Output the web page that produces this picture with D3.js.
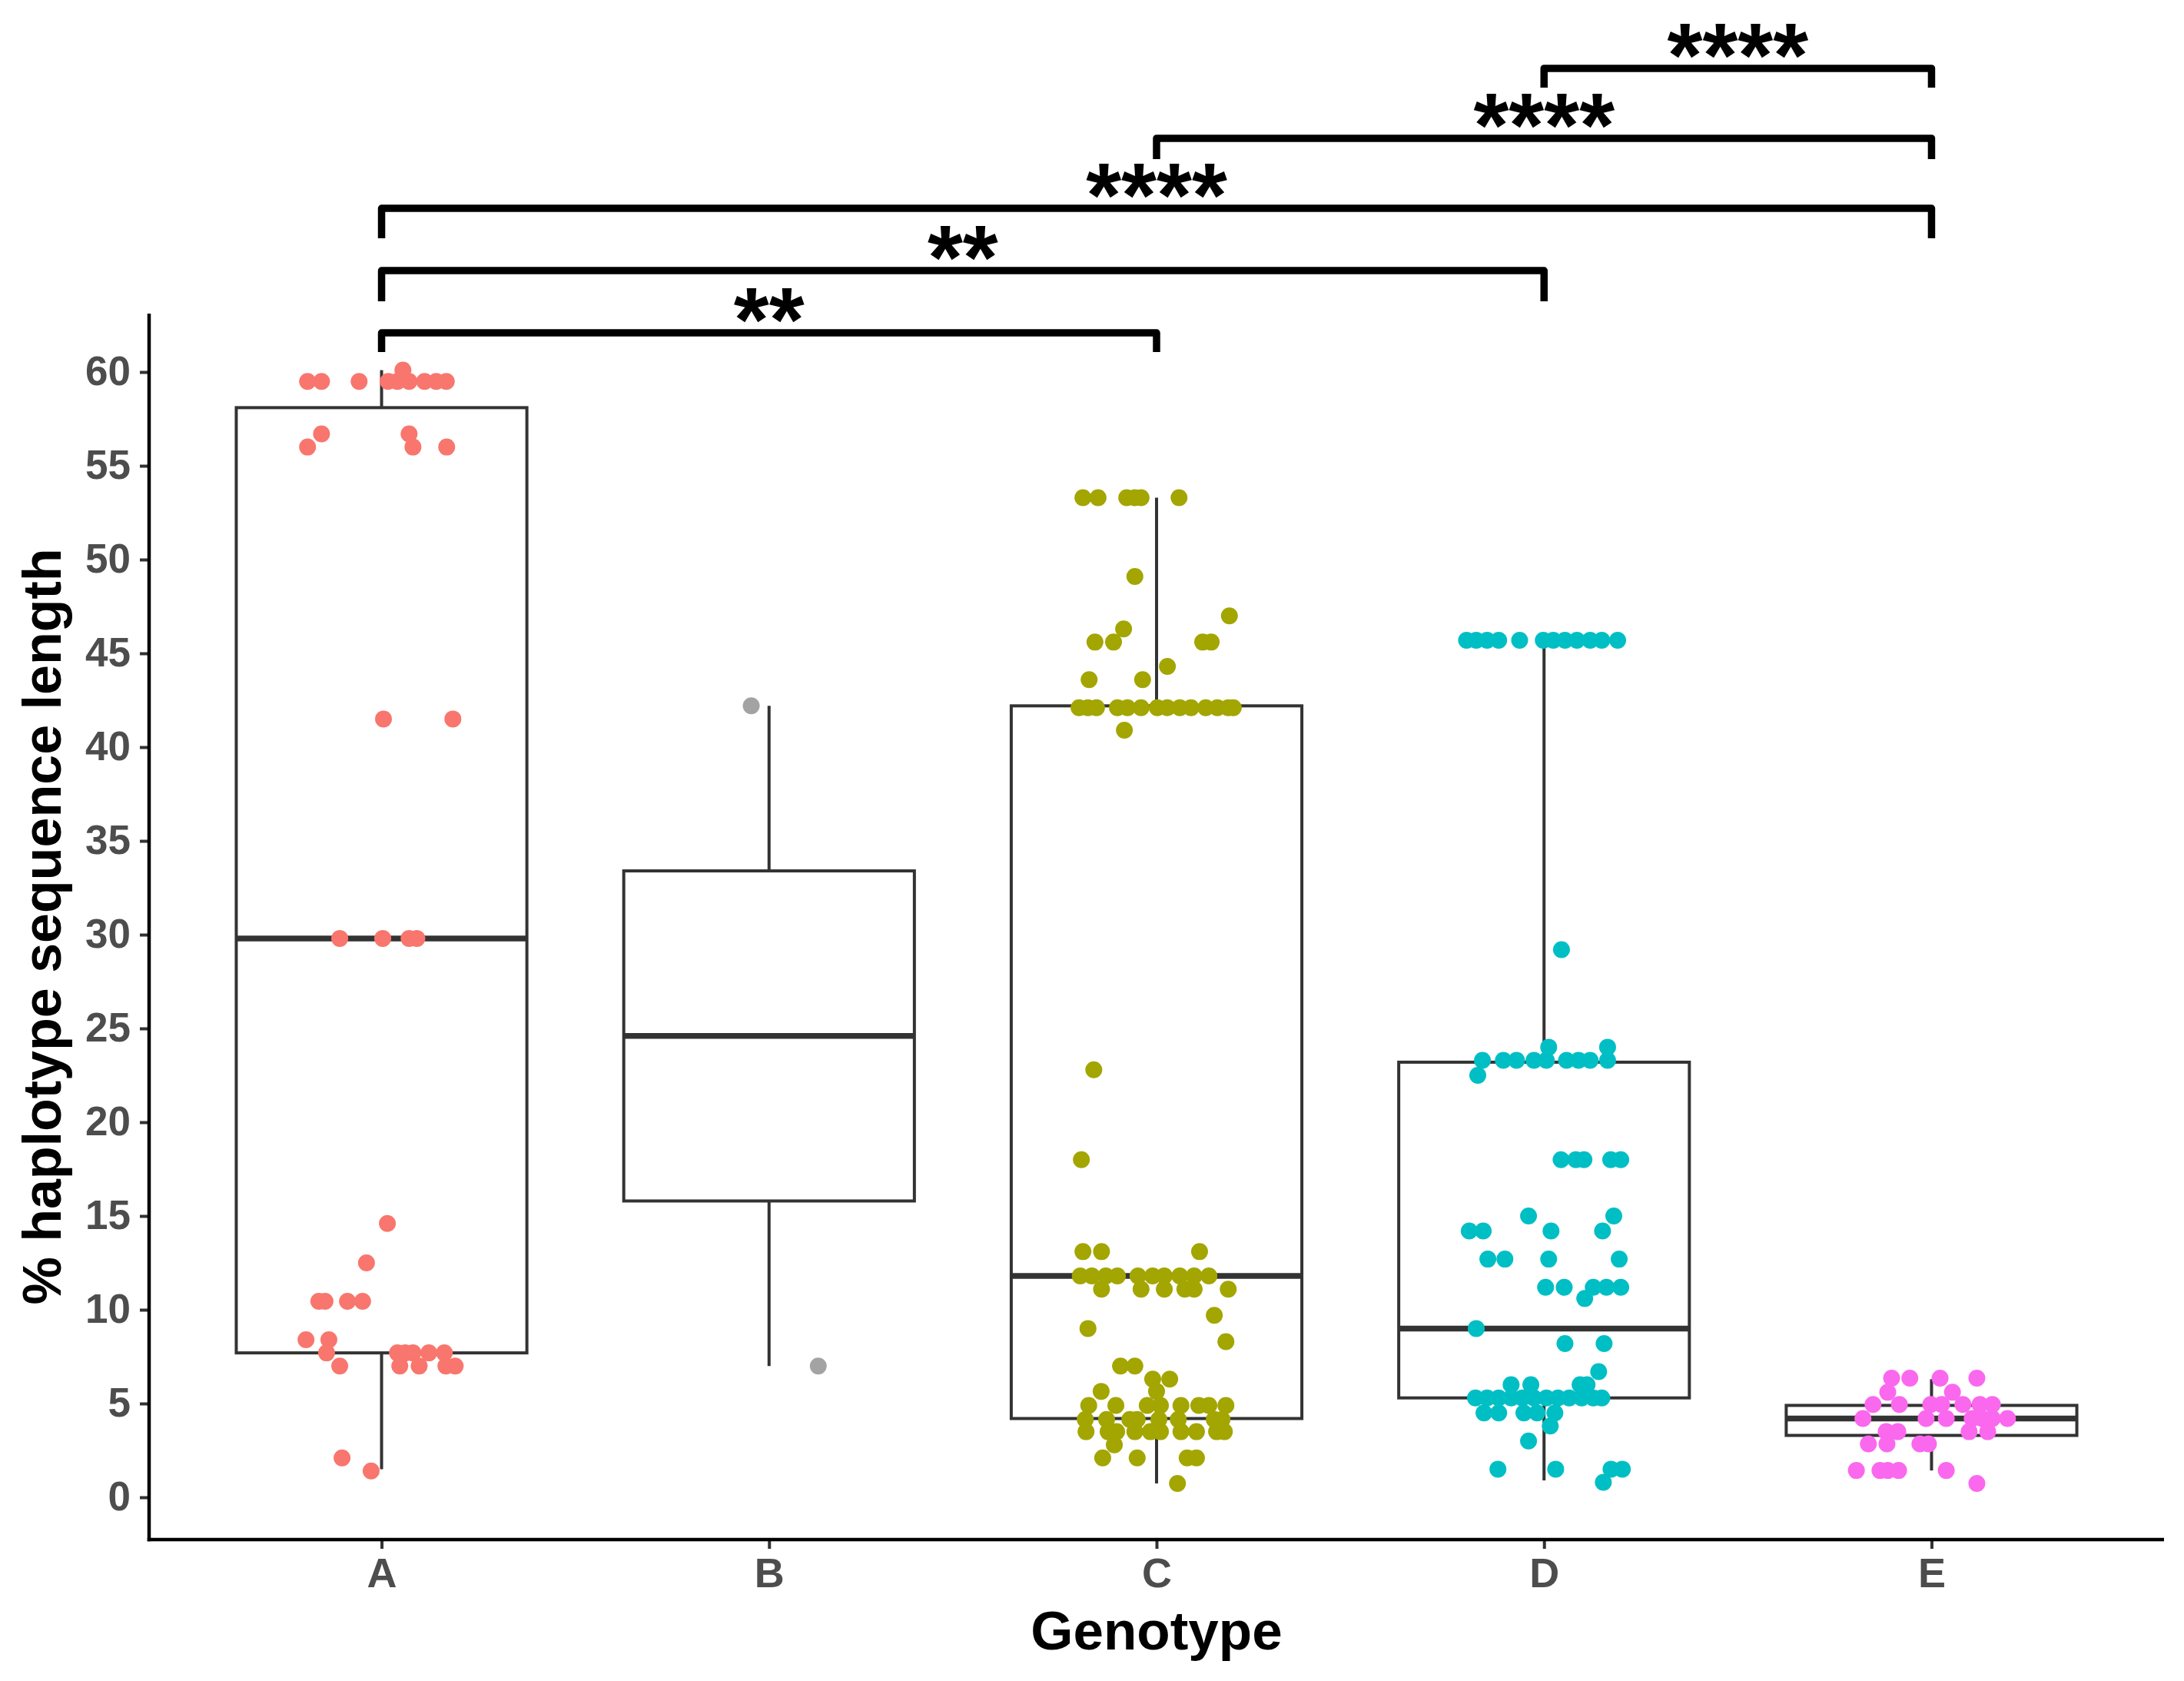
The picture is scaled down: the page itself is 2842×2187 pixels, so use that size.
<!DOCTYPE html>
<html>
<head>
<meta charset="utf-8">
<script src="https://cdn.jsdelivr.net/npm/d3@7"></script>
<style>
  html, body { margin: 0; padding: 0; background: #fff; }
  svg { display: block; }
  text { font-family: "Liberation Sans", Arial, Helvetica, sans-serif; font-weight: bold; }
</style>
</head>
<body>
<svg id="chart" width="2842" height="2187"></svg>
<script>
// ---------------- data ----------------
const categories = ["A", "B", "C", "D", "E"];
const colors = ["#F8766D", "#A3A3A3", "#A3A500", "#00BFC4", "#FA68EE"];
const yTicks = [0, 5, 10, 15, 20, 25, 30, 35, 40, 45, 50, 55, 60];

// box statistics: [whisker low, Q1, median, Q3, whisker high]
const boxA = [1.5, 7.7, 29.8, 58.1, 60.1];
const boxB = [7.0, 15.8, 24.6, 33.4, 42.2];
const boxC = [0.74, 4.2, 11.8, 42.2, 53.3];
const boxD = [0.9, 5.3, 9.0, 23.2, 45.7];
const boxE = [1.43, 3.3, 4.2, 4.9, 6.3];

// jittered points: [value, [horizontal jitter offsets as fraction of category step]]
const pointsA = [
  [59.5, [-0.191, -0.155, -0.058, 0.017, 0.041, 0.071, 0.111, 0.141, 0.167]],
  [60.1, [0.055]],
  [56.7, [-0.155, 0.071]],
  [56.0, [-0.191, 0.081, 0.168]],
  [41.5, [0.005, 0.184]],
  [29.8, [-0.108, 0.003, 0.071, 0.091]],
  [14.6, [0.015]],
  [12.5, [-0.039]],
  [10.45, [-0.162, -0.146, -0.088, -0.049]],
  [8.4, [-0.195, -0.136]],
  [7.7, [-0.142, 0.041, 0.061, 0.081, 0.122, 0.162]],
  [7.0, [-0.108, 0.047, 0.097, 0.166, 0.190]],
  [2.1, [-0.102]],
  [1.4, [-0.027]]
];
const pointsB = [
  [42.2, [-0.046]],
  [7.0, [0.127]]
];
const pointsC = [
  [53.3, [-0.190, -0.151, -0.077, -0.056, -0.040, 0.058]],
  [49.1, [-0.056]],
  [47.0, [0.188]],
  [46.3, [-0.085]],
  [45.6, [-0.159, -0.111, 0.119, 0.141]],
  [44.3, [0.028]],
  [43.6, [-0.174, -0.036]],
  [42.1, [-0.200, -0.177, -0.155, -0.101, -0.075, -0.040, 0.002, 0.028, 0.060, 0.089, 0.127, 0.157, 0.185, 0.198]],
  [40.9, [-0.083]],
  [22.8, [-0.162]],
  [18.0, [-0.194]],
  [13.1, [-0.190, -0.142, 0.111]],
  [11.8, [-0.197, -0.167, -0.131, -0.101, -0.048, -0.010, 0.020, 0.060, 0.097, 0.135]],
  [11.1, [-0.142, -0.040, 0.020, 0.073, 0.097, 0.185]],
  [9.7, [0.149]],
  [9.0, [-0.177]],
  [8.3, [0.179]],
  [7.0, [-0.093, -0.056]],
  [6.3, [-0.010, 0.034]],
  [5.65, [-0.143, 0.0]],
  [4.9, [-0.175, -0.105, -0.024, 0.010, 0.063, 0.109, 0.135, 0.179]],
  [4.15, [-0.184, -0.129, -0.069, -0.050, 0.006, 0.056, 0.149, 0.169]],
  [3.5, [-0.182, -0.125, -0.103, -0.056, -0.016, 0.010, 0.063, 0.103, 0.155, 0.175]],
  [2.8, [-0.109]],
  [2.1, [-0.139, -0.050, 0.079, 0.103]],
  [0.74, [0.054]]
];
const pointsD = [
  [45.7, [-0.200, -0.175, -0.147, -0.117, -0.063, -0.002, 0.024, 0.054, 0.085, 0.119, 0.149, 0.190]],
  [29.2, [0.045]],
  [24.0, [0.012, 0.164]],
  [23.3, [-0.159, -0.105, -0.071, -0.026, 0.006, 0.058, 0.089, 0.119, 0.164]],
  [22.5, [-0.171]],
  [18.0, [0.044, 0.082, 0.103, 0.172, 0.198]],
  [15.0, [-0.040, 0.180]],
  [14.2, [-0.193, -0.157, 0.018, 0.151]],
  [12.7, [-0.145, -0.101, 0.012, 0.194]],
  [11.2, [0.004, 0.052, 0.127, 0.161, 0.198]],
  [10.6, [0.105]],
  [9.0, [-0.175]],
  [8.2, [0.054, 0.155]],
  [6.7, [0.141]],
  [6.0, [-0.085, -0.034, 0.093, 0.111]],
  [5.3, [-0.177, -0.147, -0.117, -0.085, -0.056, -0.026, 0.006, 0.036, 0.065, 0.097, 0.127, 0.149]],
  [4.5, [-0.155, -0.117, -0.052, -0.018, 0.028]],
  [3.8, [0.016]],
  [3.0, [-0.040]],
  [1.5, [-0.119, 0.030, 0.173, 0.202]],
  [0.8, [0.153]]
];
const pointsE = [
  [6.35, [-0.103, -0.056, 0.022, 0.117]],
  [5.6, [-0.113, 0.054]],
  [4.95, [-0.151, -0.083, -0.002, 0.026, 0.081, 0.125, 0.157]],
  [4.2, [-0.177, -0.014, 0.038, 0.105, 0.131, 0.157, 0.196]],
  [3.5, [-0.117, -0.087, 0.097, 0.145]],
  [2.85, [-0.163, -0.115, -0.030, -0.008]],
  [1.43, [-0.194, -0.133, -0.113, -0.085, 0.038]],
  [0.74, [0.117]]
];

// significance brackets: from, to, bar level, tip end level (data units), label
const brackets = [
  ["A", "C", 62.09, 61.07, "**"],
  ["A", "D", 65.41, 63.77, "**"],
  ["A", "E", 68.73, 67.13, "****"],
  ["C", "E", 72.46, 71.35, "****"],
  ["D", "E", 76.19, 75.16, "****"]
];

// ---------------- build ----------------
const boxStats = [boxA, boxB, boxC, boxD, boxE];
const pointSets = [pointsA, pointsB, pointsC, pointsD, pointsE];

const W = 2842, H = 2187;
const panel = { left: 194, right: 2816, top: 408, bottom: 2003 };

const svg = d3.select("#chart");
svg.append("rect").attr("width", W).attr("height", H).attr("fill", "#fff");

const x = d3.scalePoint().domain(categories).range([panel.left, panel.right]).padding(0.6);
const step = x.step();
const y = d3.scaleLinear().domain([0, 60]).range([1948, 484]);

const boxW = 0.75 * step;
const lineCol = "#333333";

// boxes
const g = svg.append("g");
categories.forEach((c, i) => {
  const [wlo, q1, med, q3, whi] = boxStats[i];
  const cx = x(c);
  g.append("line").attr("x1", cx).attr("x2", cx).attr("y1", y(q3)).attr("y2", y(whi))
    .attr("stroke", lineCol).attr("stroke-width", 4);
  g.append("line").attr("x1", cx).attr("x2", cx).attr("y1", y(q1)).attr("y2", y(wlo))
    .attr("stroke", lineCol).attr("stroke-width", 4);
  g.append("rect").attr("x", cx - boxW / 2).attr("width", boxW)
    .attr("y", y(q3)).attr("height", y(q1) - y(q3))
    .attr("fill", "#fff").attr("stroke", lineCol).attr("stroke-width", 4);
  g.append("line").attr("x1", cx - boxW / 2).attr("x2", cx + boxW / 2)
    .attr("y1", y(med)).attr("y2", y(med))
    .attr("stroke", lineCol).attr("stroke-width", 7.5);
});

// points
const pts = [];
categories.forEach((c, i) => {
  pointSets[i].forEach(([v, offs]) => offs.forEach(o => pts.push({ c, i, v, o })));
});
svg.append("g").selectAll("circle").data(pts).join("circle")
  .attr("cx", d => x(d.c) + d.o * step)
  .attr("cy", d => y(d.v))
  .attr("r", 11)
  .attr("fill", d => colors[d.i]);

// axes
const yAxis = d3.axisLeft(y).tickValues(yTicks).tickSize(12).tickPadding(12).tickFormat(d3.format("d"));
const gy = svg.append("g").attr("transform", `translate(${panel.left},0)`).call(yAxis);
gy.select(".domain").remove();
gy.selectAll(".tick line").attr("stroke", lineCol).attr("stroke-width", 4);
gy.selectAll(".tick text").attr("fill", "#4D4D4D").attr("font-size", 53)
  .attr("font-family", "Liberation Sans, Arial, sans-serif").attr("font-weight", "bold");

const xAxis = d3.axisBottom(x).tickSize(12).tickPadding(12);
const gx = svg.append("g").attr("transform", `translate(0,${panel.bottom})`).call(xAxis);
gx.select(".domain").remove();
gx.selectAll(".tick line").attr("stroke", lineCol).attr("stroke-width", 4);
gx.selectAll(".tick text").attr("fill", "#4D4D4D").attr("font-size", 54)
  .attr("font-family", "Liberation Sans, Arial, sans-serif").attr("font-weight", "bold");

svg.append("line").attr("x1", panel.left).attr("x2", panel.left)
  .attr("y1", panel.top).attr("y2", panel.bottom + 2.25)
  .attr("stroke", "#000").attr("stroke-width", 4.5);
svg.append("line").attr("x1", panel.left - 2.25).attr("x2", panel.right)
  .attr("y1", panel.bottom).attr("y2", panel.bottom)
  .attr("stroke", "#000").attr("stroke-width", 4.5);

// axis titles
svg.append("text").attr("x", (panel.left + panel.right) / 2).attr("y", 2146)
  .attr("text-anchor", "middle").attr("font-size", 71).attr("fill", "#000").text("Genotype");
svg.append("text").attr("transform", `translate(79,${(panel.top + panel.bottom) / 2}) rotate(-90)`)
  .attr("text-anchor", "middle").attr("font-size", 70).attr("fill", "#000")
  .text("% haplotype sequence length");

// brackets
const bg = svg.append("g");
brackets.forEach(([a, b, lvl, tip, lab]) => {
  const x1 = x(a), x2 = x(b);
  bg.append("path")
    .attr("d", `M${x1},${y(tip)} L${x1},${y(lvl)} L${x2},${y(lvl)} L${x2},${y(tip)}`)
    .attr("fill", "none").attr("stroke", "#000").attr("stroke-width", 9.5)
    .attr("stroke-linejoin", "round");
  bg.append("text").attr("x", (x1 + x2) / 2).attr("y", y(lvl) + 24)
    .attr("text-anchor", "middle").attr("font-size", 118).attr("fill", "#000").text(lab);
});
</script>
</body>
</html>
